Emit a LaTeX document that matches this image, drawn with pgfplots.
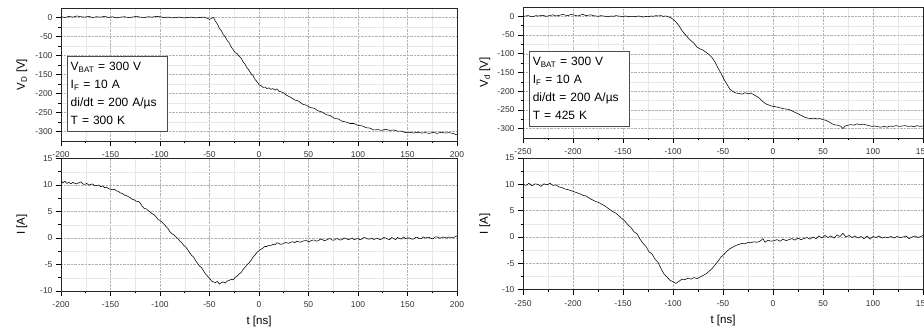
\documentclass[border=0pt]{standalone}
\usepackage{pgfplots}
\pgfplotsset{compat=1.18}
\usepackage{fontspec}
\setmainfont{Liberation Sans}
\tikzset{
  infobox/.style={draw=black!70, line width=0.5pt, fill=white, align=left, anchor=north west,
    font=\fontsize{12}{18}\selectfont, text width=93pt, inner xsep=3.5pt, inner ysep=6pt},
}
\pgfplotsset{
  myax/.style={
    scale only axis,
    anchor=south west,
    axis line style={black!85, line width=0.8pt},
    tick align=outside,
    xtick pos=left, ytick pos=left,
    major tick length=5pt, minor tick length=2.5pt,
    tick style={black, line width=0.6pt},
    grid=both,
    major grid style={gray!60, densely dotted, line width=0.5pt},
    minor grid style={gray!18, line width=0.4pt},
    minor x tick num=1, minor y tick num=1,
    tick label style={font=\fontsize{8.5}{10}\selectfont, text=black!80},
    xticklabel style={yshift=-2.5pt},
    /pgf/number format/assume math mode=true,
    label style={font=\fontsize{11.5}{13}\selectfont},
    xlabel style={at={(axis description cs:0.5,0)}, yshift=-31pt, anchor=center},
  },
  crv/.style={black, line width=0.55pt, line join=round, no marks},
}
\begin{document}
\begin{tikzpicture}[x=1pt,y=1pt]
% ---------- left top ----------
\begin{axis}[myax, at={(61pt,188pt)}, width=396pt, height=133pt,
  xmin=-200, xmax=200, xtick={-200,-150,...,200},
  ymin=-325, ymax=25, ytick={-300,-250,...,0},
  ylabel={V\textsubscript{D} [V]},
  ylabel style={at={(axis description cs:-0.0985,0.5)}, anchor=center}]
\addplot[crv] coordinates {
(-200,2)(-196,0)(-192,3)(-188,1)(-184,4)(-180,2)(-176,1)(-172,3)(-168,0)(-164,2)
(-160,1)(-156,3)(-152,0)(-148,2)(-144,-1)(-140,1)(-136,2)(-132,0)(-128,1)(-124,3)
(-120,1)(-116,0)(-112,2)(-108,1)(-104,3)(-100,2)(-96,0)(-92,1)(-88,-1)(-84,0)
(-80,1)(-76,-1)(-72,0)(-68,1)(-64,-1)(-60,0)(-56,1)(-52,-2)(-50,-5)(-48,-2)
(-46,0)(-44,-10)(-42,-17)(-40,-29)(-38,-35)(-36,-45)(-34,-51)(-32,-61)(-30,-67)(-28,-78)
(-26,-85)(-24,-93)(-22,-95)(-20,-102)(-18,-107)(-16,-117)(-14,-123)(-12,-133)(-10,-139)(-8,-148)
(-6,-153)(-4,-163)(-2,-169)(0,-177)(2,-179)(4,-184)(6,-183)(8,-187)(10,-185)(12,-189)
(14,-187)(16,-191)(18,-188)(20,-194)(24,-197)(28,-205)(32,-210)(36,-217)(40,-220)(44,-228)
(48,-231)(52,-237)(56,-239)(60,-246)(64,-249)(68,-256)(72,-258)(76,-265)(80,-267)(84,-273)
(88,-275)(92,-279)(96,-279)(100,-284)(104,-285)(108,-290)(112,-291)(116,-296)(120,-295)(124,-297)
(128,-294)(132,-297)(136,-296)(140,-299)(144,-299)(148,-303)(152,-302)(156,-304)(160,-302)(164,-304)
(168,-303)(172,-305)(176,-302)(180,-305)(184,-302)(188,-304)(192,-303)(196,-305)(200,-309)
};
\node[infobox] at (axis cs:-194,-102) {V\textsubscript{BAT} = 300 V\\I\textsubscript{F} = 10 A\\di/dt = 200 A/µs\\T = 300 K};
\end{axis}
% ---------- left bottom ----------
\begin{axis}[myax, at={(61pt,38pt)}, width=396pt, height=132.5pt,
  xmin=-200, xmax=200, xtick={-200,-150,...,200},
  ymin=-10, ymax=15, ytick={-10,-5,...,15},
  ylabel={I [A]}, xlabel={t [ns]},
  ylabel style={at={(axis description cs:-0.0985,0.5)}, anchor=center}]
\addplot[crv] coordinates {
(-200,10.8)(-198,10.4)(-196,10.7)(-194,10.3)(-192,10.5)(-190,10.2)(-188,10.5)(-186,10.3)(-184,10.2)(-182,10.4)
(-180,10.6)(-178,10.2)(-176,10.1)(-174,10.3)(-172,10.0)(-170,10.1)(-168,10.2)(-166,9.9)(-164,9.9)(-162,10.0)
(-160,9.7)(-158,9.8)(-156,9.5)(-154,9.6)(-152,9.3)(-150,9.2)(-148,9.1)(-146,9.2)(-144,8.9)(-142,8.8)
(-140,8.5)(-138,8.4)(-136,8.1)(-134,8.0)(-132,7.8)(-130,7.6)(-128,7.3)(-126,7.2)(-124,6.9)(-122,6.9)
(-120,6.6)(-118,6.0)(-116,5.6)(-114,5.5)(-112,5.2)(-110,4.9)(-108,4.6)(-106,4.4)(-104,4.0)(-102,3.5)
(-100,3.3)(-98,3.0)(-96,2.6)(-94,2.2)(-92,1.8)(-90,1.2)(-88,0.8)(-86,0.6)(-84,0.2)(-82,-0.1)
(-80,-0.6)(-78,-0.9)(-76,-1.4)(-74,-1.7)(-72,-2.2)(-70,-2.8)(-68,-3.3)(-66,-3.6)(-64,-4.3)(-62,-4.8)
(-60,-5.3)(-58,-5.6)(-56,-6.2)(-54,-6.8)(-52,-7.2)(-50,-7.6)(-48,-8.1)(-46,-8.3)(-44,-8.4)(-42,-8.2)
(-40,-8.7)(-38,-8.4)(-36,-8.3)(-34,-8.5)(-32,-8.1)(-30,-8.0)(-28,-7.8)(-26,-7.9)(-24,-7.4)(-22,-7.2)
(-20,-6.8)(-18,-6.5)(-16,-5.9)(-14,-5.5)(-12,-5.0)(-10,-4.7)(-8,-4.2)(-6,-3.6)(-4,-3.2)(-2,-2.7)
(0,-2.4)(2,-2.1)(4,-1.9)(6,-1.6)(8,-1.6)(10,-1.4)(12,-1.4)(14,-1.2)(16,-1.3)(18,-0.9)
(20,-1.0)(22,-1.2)(24,-1.1)(26,-0.9)(28,-0.9)(30,-1.0)(32,-0.8)(34,-0.7)(36,-0.9)(38,-0.6)
(40,-0.7)(42,-0.8)(44,-0.6)(46,-0.5)(48,-0.5)(50,-0.7)(52,-0.6)(54,-0.4)(56,-0.4)(58,-0.6)
(60,-0.5)(62,-0.2)(64,-0.3)(66,-0.5)(68,-0.4)(70,-0.2)(72,-0.1)(74,-0.4)(76,-0.4)(78,-0.1)
(80,-0.2)(82,-0.4)(84,-0.3)(86,0.0)(88,-0.1)(90,-0.3)(92,-0.2)(94,0.0)(96,-0.3)(98,-0.2)
(100,-0.1)(102,-0.3)(104,-0.2)(106,0.1)(108,0.0)(110,-0.2)(112,-0.2)(114,0.0)(116,-0.3)(118,-0.1)
(120,-0.1)(122,-0.3)(124,-0.2)(126,0.1)(128,0.0)(130,-0.2)(132,-0.3)(134,0.1)(136,-0.1)(138,-0.3)
(140,0.1)(142,-0.1)(144,-0.2)(146,0.2)(148,-0.1)(150,0.0)(152,0.0)(154,-0.2)(156,-0.2)(158,0.1)
(160,0.1)(162,-0.1)(164,-0.1)(166,0.2)(168,0.0)(170,0.1)(172,0.1)(174,-0.1)(176,-0.1)(178,0.2)
(180,0.2)(182,0.0)(184,0.0)(186,0.2)(188,0.1)(190,0.0)(192,0.2)(194,0.1)(196,0.1)(198,0.2)(200,0.4)
};
\end{axis}
% ---------- right top ----------
\begin{axis}[myax, at={(523pt,191pt)}, width=400pt, height=131pt,
  xmin=-250, xmax=150, xtick={-250,-200,...,150},
  ymin=-325, ymax=25, ytick={-300,-250,...,0},
  ylabel={V\textsubscript{d} [V]},
  ylabel style={at={(axis description cs:-0.095,0.5)}, anchor=center}]
\addplot[crv] coordinates {
(-250,0)(-247,1)(-245,2)(-242,0)(-240,-1)(-237,2)(-235,1)(-232,2)(-230,3)(-227,0)
(-225,1)(-222,3)(-220,4)(-217,1)(-215,2)(-212,4)(-210,5)(-207,3)(-205,2)(-202,5)
(-200,4)(-197,2)(-195,1)(-192,4)(-190,5)(-187,2)(-185,3)(-182,4)(-180,2)(-177,1)
(-175,0)(-172,2)(-170,1)(-167,0)(-165,-1)(-162,1)(-160,0)(-157,2)(-155,1)(-152,0)
(-150,0)(-147,1)(-145,-1)(-142,0)(-140,0)(-137,-1)(-135,1)(-132,0)(-130,-2)(-127,0)
(-125,-1)(-122,1)(-120,0)(-117,2)(-115,1)(-112,2)(-110,0)(-107,1)(-105,-1)(-102,-4)
(-100,-8)(-97,-15)(-94,-25)(-91,-38)(-88,-48)(-85,-57)(-82,-65)(-79,-72)(-76,-82)(-73,-87)
(-70,-90)(-67,-96)(-64,-102)(-61,-110)(-58,-122)(-55,-138)(-52,-152)(-49,-168)(-46,-182)(-43,-195)
(-40,-201)(-37,-205)(-34,-206)(-31,-208)(-28,-204)(-25,-207)(-22,-205)(-19,-210)(-16,-214)(-13,-220)
(-10,-228)(-7,-234)(-4,-237)(-1,-240)(2,-241)(5,-243)(8,-245)(11,-247)(14,-248)(17,-250)
(20,-254)(23,-258)(26,-262)(29,-266)(32,-270)(35,-272)(38,-273)(41,-272)(44,-274)(47,-273)
(50,-276)(53,-278)(56,-282)(59,-287)(62,-290)(65,-291)(68,-294)(70,-300)(72,-293)(75,-291)
(78,-289)(81,-291)(84,-287)(87,-290)(90,-288)(93,-290)(96,-292)(99,-294)(102,-293)(105,-295)
(108,-296)(111,-294)(114,-296)(117,-293)(120,-294)(123,-292)(126,-294)(129,-293)(132,-292)(135,-294)
(138,-293)(141,-295)(144,-292)(147,-294)(150,-293)
};
\node[infobox] at (axis cs:-244,-93) {V\textsubscript{BAT} = 300 V\\I\textsubscript{F} = 10 A\\di/dt = 200 A/µs\\T = 425 K};
\end{axis}
% ---------- right bottom ----------
\begin{axis}[myax, at={(523pt,39.3pt)}, width=400pt, height=131.7pt,
  xmin=-250, xmax=150, xtick={-250,-200,...,150},
  ymin=-10, ymax=15, ytick={-10,-5,...,15},
  ylabel={I [A]}, xlabel={t [ns]},
  ylabel style={at={(axis description cs:-0.095,0.5)}, anchor=center}]
\addplot[crv] coordinates {
(-250,10.0)(-247,9.8)(-244,10.2)(-241,9.7)(-238,10.1)(-235,10.0)(-232,9.6)(-229,10.1)(-226,9.9)(-223,10.2)
(-220,9.8)(-217,9.9)(-214,9.5)(-211,9.4)(-208,9.1)(-205,9.0)(-202,8.8)(-199,8.6)(-196,8.4)(-193,8.2)
(-190,7.9)(-187,7.8)(-184,7.4)(-181,7.1)(-178,6.8)(-175,6.6)(-172,6.3)(-169,6.0)(-166,5.6)(-163,5.2)
(-160,4.8)(-157,4.5)(-154,4.0)(-151,3.5)(-148,3.0)(-145,2.3)(-142,1.8)(-139,1.0)(-136,0.6)(-133,-0.4)
(-130,-1.2)(-127,-1.8)(-124,-2.8)(-121,-3.2)(-118,-4.2)(-115,-4.8)(-112,-6.0)(-109,-7.0)(-106,-7.6)(-103,-8.2)
(-100,-8.5)(-97,-8.8)(-94,-8.4)(-91,-8.0)(-88,-8.1)(-85,-7.8)(-82,-8.0)(-79,-7.7)(-76,-7.9)(-73,-7.6)
(-70,-7.3)(-67,-7.0)(-64,-6.5)(-61,-6.0)(-58,-5.3)(-55,-4.6)(-52,-3.8)(-49,-3.3)(-46,-2.7)(-43,-2.2)
(-40,-1.9)(-37,-1.6)(-34,-1.4)(-31,-1.2)(-28,-1.3)(-25,-1.0)(-22,-1.1)(-19,-0.9)(-16,-1.0)(-13,-0.8)
(-10,-0.3)(-8,-1.0)(-5,-0.6)(-2,-0.8)(1,-0.7)(4,-0.5)(7,-0.8)(10,-0.4)(13,-0.7)(16,-0.5)
(19,-0.3)(22,-0.6)(25,-0.2)(28,-0.5)(31,-0.3)(34,-0.1)(37,-0.4)(40,0.0)(43,-0.3)(46,0.2)
(49,-0.2)(52,0.3)(55,-0.1)(58,0.2)(61,-0.2)(64,0.4)(67,0.1)(70,0.7)(73,0.0)(76,0.3)
(79,-0.1)(82,0.2)(85,-0.2)(88,0.1)(91,-0.3)(94,0.2)(97,-0.4)(100,0.1)(103,-0.1)(106,0.2)
(109,-0.2)(112,0.0)(115,-0.1)(118,0.1)(121,-0.2)(124,0.1)(127,-0.1)(130,0.0)(133,0.2)(136,-0.3)
(139,0.0)(142,0.2)(145,-0.1)(148,0.1)(150,0.3)
};
\end{axis}
\pgfresetboundingbox
\path[use as bounding box] (0,0) rectangle (924,329);
\end{tikzpicture}
\end{document}
